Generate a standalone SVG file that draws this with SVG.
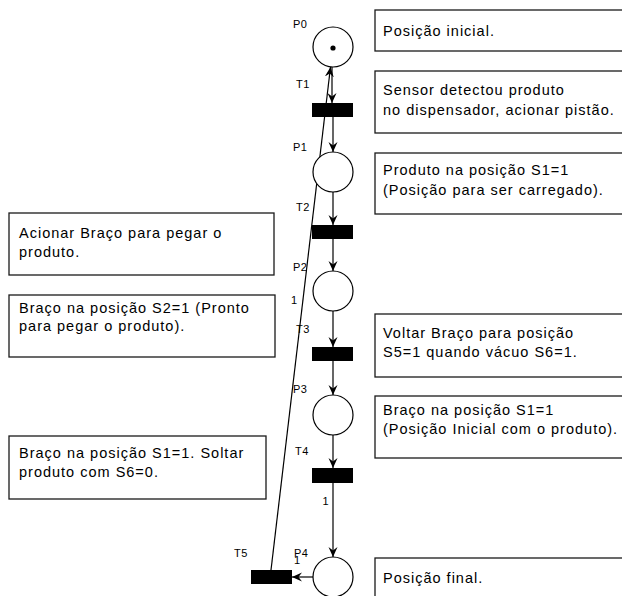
<svg xmlns="http://www.w3.org/2000/svg" width="622" height="596" viewBox="0 0 622 596">
<style>
.bg{fill:#ffffff}
.place{fill:#ffffff;stroke:#000000;stroke-width:1.2}
.trans{fill:#000000;stroke:none}
.note{fill:#ffffff;stroke:#1a1a1a;stroke-width:1.3}
.txt{font-family:"Liberation Sans",Arial,sans-serif;font-size:14.5px;letter-spacing:1px;fill:#000000}
.lbl{font-family:"Liberation Sans",Arial,sans-serif;font-size:11px;letter-spacing:0.5px;fill:#000000}
.arc{fill:none;stroke:#000000;stroke-width:1.2}
</style>
<defs>
<marker id="arr" viewBox="0 0 10 10" refX="10" refY="5" markerWidth="10" markerHeight="10" markerUnits="userSpaceOnUse" orient="auto">
<path d="M0,0.5 L10,5 L0,9.5 L3.5,5 Z" fill="#000000"/>
</marker>
</defs>
<rect class="bg" x="0" y="0" width="622" height="596"/>

<g id="notes">
<g id="note-p0"><rect class="note" x="375" y="10" width="260" height="41"/><text class="txt" x="383" y="36">Posição inicial.</text></g>
<g id="note-t1"><rect class="note" x="375" y="71" width="260" height="62"/><text class="txt" x="383" y="95">Sensor detectou produto</text><text class="txt" x="383" y="115">no dispensador, acionar pistão.</text></g>
<g id="note-p1"><rect class="note" x="375" y="153" width="260" height="61"/><text class="txt" x="383" y="175">Produto na posição S1=1</text><text class="txt" x="383" y="195">(Posição para ser carregado).</text></g>
<g id="note-t3"><rect class="note" x="375" y="314" width="260" height="63"/><text class="txt" x="383" y="338">Voltar Braço para posição</text><text class="txt" x="383" y="357">S5=1 quando vácuo S6=1.</text></g>
<g id="note-p3"><rect class="note" x="375" y="396" width="260" height="62"/><text class="txt" x="383" y="415">Braço na posição S1=1</text><text class="txt" x="383" y="434">(Posição Inicial com o produto).</text></g>
<g id="note-p4"><rect class="note" x="375" y="558" width="260" height="62"/><text class="txt" x="383" y="582.5">Posição final.</text></g>
<g id="note-t2"><rect class="note" x="9" y="213" width="265" height="62"/><text class="txt" x="19" y="238.3">Acionar Braço para pegar o</text><text class="txt" x="19" y="257">produto.</text></g>
<g id="note-p2"><rect class="note" x="9" y="295" width="266" height="62"/><text class="txt" x="19" y="312.5">Braço na posição S2=1 (Pronto</text><text class="txt" x="19" y="331">para pegar o produto).</text></g>
<g id="note-t4"><rect class="note" x="9" y="436" width="257" height="63"/><text class="txt" x="19" y="458.3">Braço na posição S1=1. Soltar</text><text class="txt" x="19" y="476.5">produto com S6=0.</text></g>
</g>

<g id="connectors">
<line class="arc" x1="332" y1="67" x2="332" y2="103" marker-end="url(#arr)"/>
<line class="arc" x1="333" y1="117" x2="333" y2="152" marker-end="url(#arr)"/>
<line class="arc" x1="333" y1="192" x2="333" y2="225" marker-end="url(#arr)"/>
<line class="arc" x1="333" y1="239" x2="333" y2="271" marker-end="url(#arr)"/>
<line class="arc" x1="333" y1="311" x2="333" y2="347" marker-end="url(#arr)"/>
<line class="arc" x1="333" y1="361" x2="333" y2="395" marker-end="url(#arr)"/>
<line class="arc" x1="333" y1="435" x2="333" y2="468" marker-end="url(#arr)"/>
<line class="arc" x1="333" y1="483" x2="333" y2="557" marker-end="url(#arr)"/>
<line class="arc" x1="313" y1="577" x2="292" y2="577" marker-end="url(#arr)"/>
<line class="arc" x1="271" y1="570" x2="330.5" y2="67" marker-end="url(#arr)"/>
<text class="lbl" x="291" y="304">1</text>
<text class="lbl" x="322.5" y="505">1</text>
<text class="lbl" x="294" y="564">1</text>
</g>

<g id="P0"><circle class="place" cx="333" cy="47" r="20"/><circle cx="333" cy="48" r="2.6" fill="#000000"/><text class="lbl" x="293" y="27.5">P0</text></g>
<g id="P1"><circle class="place" cx="333" cy="172" r="20"/><text class="lbl" x="293" y="150.5">P1</text></g>
<g id="P2"><circle class="place" cx="333" cy="291" r="20"/><text class="lbl" x="293" y="271">P2</text></g>
<g id="P3"><circle class="place" cx="333" cy="415" r="20"/><text class="lbl" x="293" y="393">P3</text></g>
<g id="P4"><circle class="place" cx="333" cy="577" r="20"/><text class="lbl" x="294" y="556.7">P4</text></g>
<g id="T1"><rect class="trans" x="312" y="103" width="41" height="14"/><text class="lbl" x="296" y="87.5">T1</text></g>
<g id="T2"><rect class="trans" x="312" y="225" width="41" height="14"/><text class="lbl" x="296" y="210.5">T2</text></g>
<g id="T3"><rect class="trans" x="312" y="347" width="41" height="14"/><text class="lbl" x="296" y="333">T3</text></g>
<g id="T4"><rect class="trans" x="312" y="468" width="41" height="15"/><text class="lbl" x="295" y="454.5">T4</text></g>
<g id="T5"><rect class="trans" x="251" y="570" width="41" height="14"/><text class="lbl" x="234" y="557">T5</text></g>
</svg>
